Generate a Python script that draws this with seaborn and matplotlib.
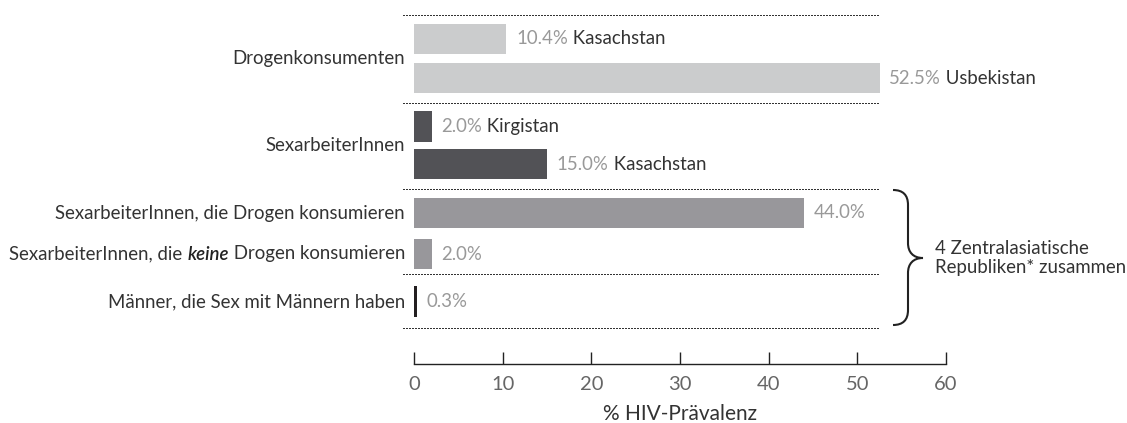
import matplotlib
matplotlib.use("Agg")
import matplotlib.pyplot as plt
import matplotlib.transforms as mtransforms
from matplotlib.path import Path
from matplotlib.patches import PathPatch
import seaborn as sns
import pandas as pd

# ---------------- data ----------------
groups = ["Drogenkonsumenten", "SexarbeiterInnen",
          "SexarbeiterInnen, die Drogen konsumieren",
          "SexarbeiterInnen, die keine Drogen konsumieren",
          "Männer, die Sex mit Männern haben"]
bar_group = ["Drogenkonsumenten", "Drogenkonsumenten",
             "SexarbeiterInnen", "SexarbeiterInnen",
             "SexarbeiterInnen, die Drogen konsumieren",
             "SexarbeiterInnen, die keine Drogen konsumieren",
             "Männer, die Sex mit Männern haben"]
values = [10.4, 52.5, 2.0, 15.0, 44.0, 2.0, 0.3]
countries = ["Kasachstan", "Usbekistan", "Kirgistan", "Kasachstan", "", "", ""]
color_key = ["idu", "idu", "sw", "sw", "comb", "comb", "msm"]
x_ticks = [0, 10, 20, 30, 40, 50, 60]
x_label = "% HIV-Prävalenz"
brace_label = "4 Zentralasiatische\nRepubliken* zusammen"

# ---------------- layout (pixel rows of figure, top = 0) ----------------
W, H = 1127, 423
bar_rows = [39, 78, 126.5, 164, 213, 254, 301.5]
sep_rows = [15, 103, 189, 274, 328]
axis_row = 364

palette = {"idu": "#cbcccd", "sw": "#525256", "comb": "#98979b", "msm": "#231f20"}
TXT = "#333333"
VAL = "#999999"

sns.set_theme(style="white")
plt.rcParams["font.family"] = ["Lato", "DejaVu Sans"]
FS = 13.4

df = pd.DataFrame({"value": values, "row": bar_rows, "key": color_key,
                   "group": bar_group, "country": countries})

fig = plt.figure(figsize=(W / 100, H / 100), dpi=100)
fig.patch.set_facecolor("white")
ax = fig.add_axes([414 / W, 0, 532 / W, 1])

sns.barplot(data=df, x="value", y="row", hue="key", palette=palette,
            orient="h", native_scale=True, dodge=False, legend=False,
            width=0.81, saturation=1, ax=ax, linewidth=0)

ax.set_xlim(0, 60)
ax.set_ylim(H, 0)
ax.set_facecolor("none")

for s in ["top", "right", "left"]:
    ax.spines[s].set_visible(False)
ax.spines["bottom"].set_position(("data", axis_row))
ax.spines["bottom"].set_bounds(0, 60)
ax.spines["bottom"].set_color("#222222")
ax.spines["bottom"].set_linewidth(1.0)
ax.set_xticks(x_ticks)
ax.set_xticklabels([str(t) for t in x_ticks])
ax.tick_params(axis="x", direction="in", length=9, width=1.0, color="#222222",
               pad=9, labelsize=14.5, labelcolor="#666666", bottom=True)
ax.set_yticks([])
ax.set_ylabel("")
ax.set_xlabel(x_label, fontsize=15, color=TXT, va="center")
ax.xaxis.set_label_coords(0.5, 1 - 414 / H)

# pixel transform (top-left origin)
T = mtransforms.Affine2D().scale(1 / W, -1 / H).translate(0, 1) + fig.transFigure

# dotted separators
for r in sep_rows:
    ax.plot([403, 880], [r, r], transform=T, color="#333333", lw=1.0,
            linestyle=(0, (1.0, 1.0)), clip_on=False, antialiased=False)

# value labels
for v, row, c in zip(values, bar_rows, countries):
    t1 = ax.annotate(f"{v:.1f}%", xy=(v, row), xytext=(7, 0),
                     textcoords="offset points", va="center", ha="left",
                     color=VAL, fontsize=FS)
    if c:
        ax.annotate(" " + c, xy=(1, 0), xycoords=t1, va="bottom", ha="left",
                    color=TXT, fontsize=FS)

# category labels
label_x = 405
group_rows = {}
for g, row in zip(bar_group, bar_rows):
    group_rows.setdefault(g, []).append(row)
for g in groups:
    rows = group_rows[g]
    y = sum(rows) / len(rows)
    if " keine " in g:
        pre, post = g.split("keine")
        p3 = fig.text(label_x / W, 1 - y / H, post, ha="right", va="center",
                      color=TXT, fontsize=FS)
        p2 = ax.annotate("keine", xy=(0, 0), xycoords=p3, ha="right",
                         va="bottom", color="#222222", fontsize=FS,
                         fontstyle="italic", fontweight="semibold")
        ax.annotate(pre, xy=(0, 0), xycoords=p2, ha="right", va="bottom",
                    color=TXT, fontsize=FS)
    else:
        fig.text(label_x / W, 1 - y / H, g, ha="right", va="center",
                 color=TXT, fontsize=FS)

# brace
verts = [(893, 190), (903, 190), (908, 195), (908, 205),
         (908, 243),
         (908, 252), (913, 258), (923, 258),
         (913, 258), (908, 264), (908, 273),
         (908, 310),
         (908, 320), (903, 325), (893, 325)]
codes = [Path.MOVETO, Path.CURVE4, Path.CURVE4, Path.CURVE4,
         Path.LINETO,
         Path.CURVE4, Path.CURVE4, Path.CURVE4,
         Path.CURVE4, Path.CURVE4, Path.CURVE4,
         Path.LINETO,
         Path.CURVE4, Path.CURVE4, Path.CURVE4]
brace = PathPatch(Path(verts, codes), transform=T, facecolor="none",
                  edgecolor="#222222", lw=1.5, clip_on=False)
fig.patches.append(brace)
fig.text(935 / W, 1 - 258 / H, brace_label, ha="left", va="center",
         color=TXT, fontsize=FS, linespacing=1.2)

fig.savefig("out.png", dpi=100)
